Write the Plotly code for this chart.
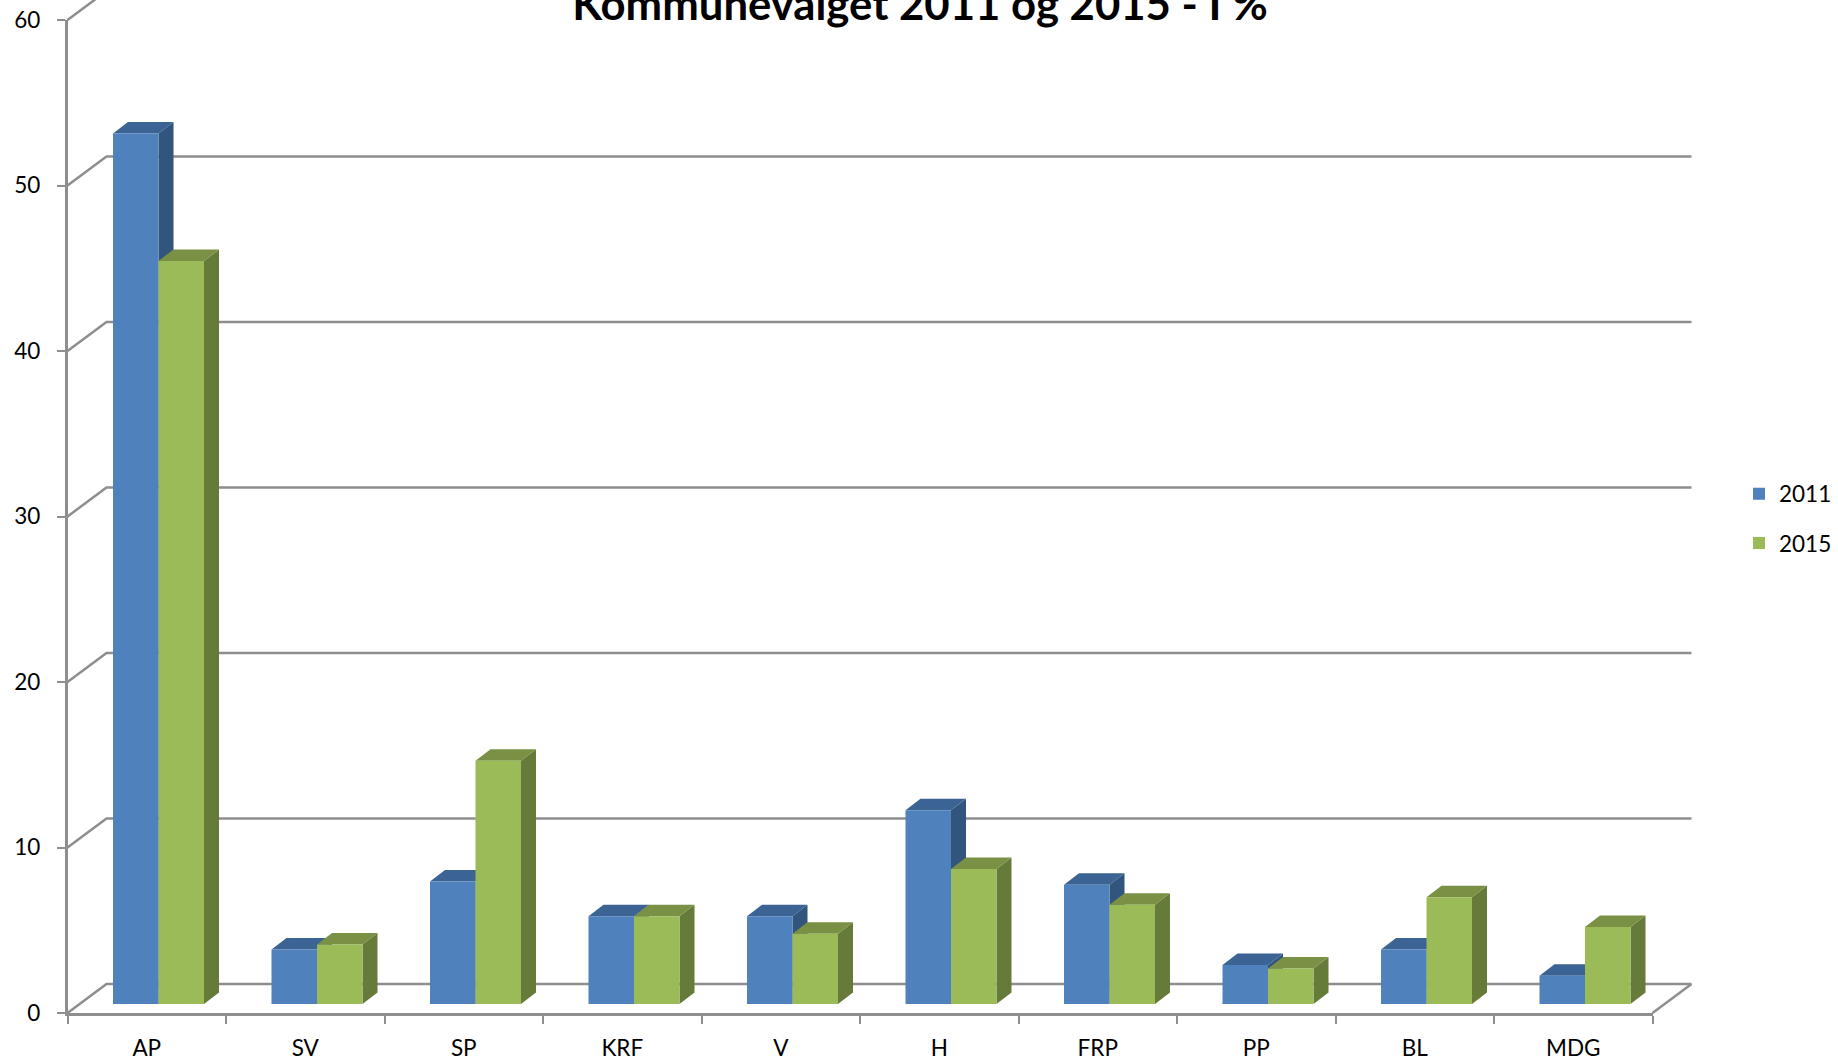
import plotly.graph_objects as go

categories = ["AP", "SV", "SP", "KRF", "V", "H", "FRP", "PP", "BL", "MDG"]
values_2011 = [52.6, 3.3, 7.4, 5.3, 5.3, 11.7, 7.2, 2.35, 3.3, 1.7]
values_2015 = [44.9, 3.6, 14.7, 5.3, 4.25, 8.15, 6.0, 2.15, 6.45, 4.65]
y_ticks = [0, 10, 20, 30, 40, 50, 60]
title = "Kommunevalget 2011 og 2015 - I %"

W, H = 1838, 1060
LEFT, RIGHT, BOTTOM, TOP = 67.5, 1652.5, 1013, 20
PX_X = (RIGHT - LEFT) / len(categories)
PX_Y = (BOTTOM - TOP) / 60
FONT = "Lato"
GREY = "#8E8E8E"

# depth of the fake-3D box, in axis units
WALL_DX, WALL_DY = 39 / PX_X, 29 / PX_Y
BAR_DX, BAR_DY = 15 / PX_X, 11.5 / PX_Y
BASE = 9 / PX_Y
BAR_W = 45.5 / PX_X
SHIFT = 11.75 / PX_X

fig = go.Figure()

# back wall + floor, on the hidden full-page axes
wx, wy = [], []
for t in y_ticks:
    wx += [-0.5, -0.5 + WALL_DX, len(categories) - 0.5 + WALL_DX, None]
    wy += [t, t + WALL_DY, t + WALL_DY, None]
wx += [len(categories) - 0.5, len(categories) - 0.5 + WALL_DX]
wy += [0, WALL_DY]
fig.add_trace(go.Scatter(x=wx, y=wy, mode="lines", line=dict(color=GREY, width=2.5),
                         showlegend=False, hoverinfo="skip", xaxis="x", yaxis="y"))


def faces(values, start):
    sx, sy, tx, ty = [], [], [], []
    for i, v in enumerate(values):
        x0 = i + start
        x1 = x0 + BAR_W
        h = v + BASE
        sx += [x1, x1, x1 + BAR_DX, x1 + BAR_DX, x1, None]
        sy += [BASE, h, h + BAR_DY, BASE + BAR_DY, BASE, None]
        tx += [x0, x1, x1 + BAR_DX, x0 + BAR_DX, x0, None]
        ty += [h, h, h + BAR_DY, h + BAR_DY, h, None]
    return sx, sy, tx, ty


series = [
    ("2011", values_2011, SHIFT - BAR_W, "#4F81BD", "#3B6393", "#31557C"),
    ("2015", values_2015, SHIFT, "#9BBB59", "#7A9145", "#667A3A"),
]
for name, vals, start, front, top, side in series:
    sx, sy, tx, ty = faces(vals, start)
    for fx, fy, col in ((sx, sy, side), (tx, ty, top)):
        fig.add_trace(go.Scatter(x=fx, y=fy, mode="lines", fill="toself", fillcolor=col,
                                 line=dict(width=0, color=col), showlegend=False,
                                 hoverinfo="skip", xaxis="x", yaxis="y"))

for name, vals, start, front, top, side in series:
    fig.add_trace(go.Bar(x=categories, y=vals, base=BASE, name=name, legendgroup=name,
                         offset=start, width=BAR_W, marker=dict(color=front, line=dict(width=0)),
                         xaxis="x2", yaxis="y2"))

fig.update_layout(
    template="none",
    width=W, height=H, autosize=False,
    margin=dict(l=0, r=0, t=0, b=0),
    paper_bgcolor="white", plot_bgcolor="rgba(0,0,0,0)",
    barmode="overlay",
    font=dict(family=FONT, size=22.5, color="black"),
    title=dict(text=title, font=dict(family=FONT, size=43.7, color="black", weight="bold"),
               x=(575 + 1265) / 2 / W, xanchor="center", xref="paper",
               y=1 - 20 / H, yanchor="bottom", yref="container"),
    legend=dict(x=1739 / W, xanchor="left", y=1 - 472.5 / H, yanchor="top",
                bgcolor="rgba(0,0,0,0)", tracegroupgap=17,
                font=dict(family=FONT, size=22.5, color="black")),
    xaxis=dict(visible=False, range=[-0.5 - LEFT / PX_X, -0.5 + (W - LEFT) / PX_X],
               domain=[0, 1], fixedrange=True, automargin=False),
    yaxis=dict(visible=False, range=[-(H - BOTTOM) / PX_Y, BOTTOM / PX_Y],
               domain=[0, 1], fixedrange=True, automargin=False),
    xaxis2=dict(domain=[LEFT / W, RIGHT / W], anchor="y2", type="category", automargin=False,
                categoryorder="array", categoryarray=categories, range=[-0.5, len(categories) - 0.5],
                showgrid=False, zeroline=False, showline=True, linecolor=GREY, linewidth=2.5,
                ticks="outside", tickson="boundaries", ticklen=8, tickwidth=2, tickcolor=GREY,
                ticklabelstandoff=13, tickfont=dict(family=FONT, size=22.5, color="black")),
    yaxis2=dict(domain=[(H - BOTTOM) / H, (H - TOP) / H], anchor="x2", automargin=False,
                range=[0, 60], tickvals=y_ticks, showgrid=False, zeroline=False,
                showline=True, linecolor=GREY, linewidth=2.5,
                ticks="outside", ticklen=8, tickwidth=2, tickcolor=GREY,
                ticklabelstandoff=12, tickfont=dict(family=FONT, size=22.5, color="black")),
)

fig.write_html("out.html", config=dict(displayModeBar=False),
               post_script="document.body.style.margin='0';document.body.style.overflow='hidden';")
